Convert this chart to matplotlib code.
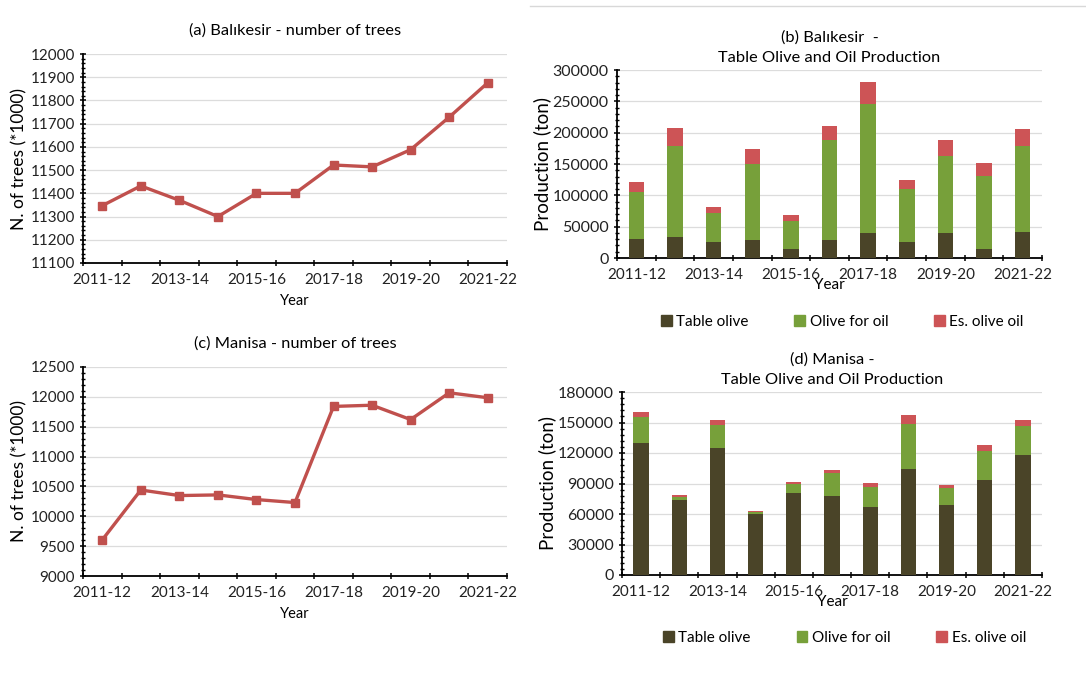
import numpy as np
import matplotlib.pyplot as plt
from matplotlib.lines import Line2D
from matplotlib.patches import Patch
from matplotlib.ticker import MultipleLocator

plt.rcParams["font.family"] = ["Lato", "DejaVu Sans"]

years = ["2011-12", "2012-13", "2013-14", "2014-15", "2015-16", "2016-17",
         "2017-18", "2018-19", "2019-20", "2020-21", "2021-22"]

# number of trees (*1000)
trees_balikesir = [11347, 11432, 11370, 11300, 11400, 11400,
                   11522, 11514, 11588, 11728, 11876]
trees_manisa = [9605, 10440, 10347, 10358, 10280, 10230,
                11840, 11860, 11620, 12068, 11985]

# production (ton)
table_balikesir = [30000, 34000, 26000, 28000, 15000, 28000,
                   40500, 26000, 40500, 15000, 41500]
oil_olive_balikesir = [75500, 145000, 46000, 121500, 44700, 161000,
                       205000, 84300, 122600, 116000, 137500]
es_oil_balikesir = [16000, 28800, 10100, 24600, 9000, 21300,
                    35700, 14400, 25000, 20800, 27200]

table_manisa = [130000, 73500, 124500, 60000, 80500, 77500,
                66500, 104500, 68500, 93000, 118000]
oil_olive_manisa = [25500, 3700, 23000, 1700, 9200, 23000,
                    20300, 44300, 16700, 28900, 29000]
es_oil_manisa = [5300, 1300, 5300, 900, 1600, 2300,
                 3300, 8900, 3600, 5900, 5900]

LINE_RED = "#C0504D"
DARK = "#4A4428"
GREEN = "#77A03A"
RED = "#CD5456"
GRID = "#DCDCDC"

W, H = 1086, 684
fig = plt.figure(figsize=(W / 100, H / 100), dpi=100)


def px_axes(x0, y0, x1, y1):
    return fig.add_axes([x0 / W, 1 - y1 / H, (x1 - x0) / W, (y1 - y0) / H])


def style_axes(ax, ylim, major, minor, tick_size):
    n = len(years)
    ax.set_xlim(-0.5, n - 0.5)
    ax.set_ylim(*ylim)
    ax.yaxis.set_major_locator(MultipleLocator(major))
    ax.yaxis.set_minor_locator(MultipleLocator(minor))
    ax.grid(axis="y", color=GRID, linewidth=0.9)
    ax.set_axisbelow(True)
    for s in ["top", "right"]:
        ax.spines[s].set_visible(False)
    for s in ["left", "bottom"]:
        ax.spines[s].set_linewidth(1.3)
    ax.set_xticks(range(0, n, 2))
    ax.set_xticklabels(years[::2])
    ax.set_xticks(np.arange(-0.5, n, 1.0), minor=True)
    ax.tick_params(axis="x", which="major", length=0, pad=7,
                   labelsize=11, labelcolor="#222222")
    ax.tick_params(axis="x", which="minor", length=4, width=1.1,
                   direction="inout")
    ax.tick_params(axis="y", which="major", length=5, width=1.1,
                   direction="inout", labelsize=tick_size,
                   labelcolor="#222222")
    ax.tick_params(axis="y", which="minor", length=3, width=1.0,
                   direction="inout")


def line_panel(ax, values, ylim, major, title):
    x = np.arange(len(years))
    ax.plot(x, values, color=LINE_RED, linewidth=2.4, marker="s",
            markersize=5.5, zorder=3)
    style_axes(ax, ylim, major, major / 5, 11)
    ax.set_title(title, fontsize=11.8, pad=14)
    ax.set_ylabel("N. of trees (*1000)", fontsize=12.5, labelpad=2)
    ax.set_xlabel("Year", fontsize=10.5, labelpad=5)


def bar_panel(ax, table, oil_olive, es_oil, ylim, major, title):
    x = np.arange(len(years))
    w = 0.4
    ax.bar(x, table, w, color=DARK, zorder=3)
    ax.bar(x, oil_olive, w, bottom=table, color=GREEN, zorder=3)
    ax.bar(x, es_oil, w, bottom=np.add(table, oil_olive), color=RED, zorder=3)
    style_axes(ax, ylim, major, major / 5, 11.5)
    ax.set_title(title, fontsize=11.8, pad=6, linespacing=1.5)
    ax.set_ylabel("Production (ton)", fontsize=13.5, labelpad=1)
    ax.set_xlabel("Year", fontsize=11, labelpad=-3)
    handles = [Patch(color=DARK, label="Table olive"),
               Patch(color=GREEN, label="Olive for oil"),
               Patch(color=RED, label="Es. olive oil")]
    ax.legend(handles=handles, loc="upper center", bbox_to_anchor=(0.53, -0.23),
              ncol=3, frameon=False, fontsize=11, handlelength=0.7,
              handleheight=0.7, handletextpad=0.3, columnspacing=3.0)


ax_a = px_axes(83, 54, 507, 263)
line_panel(ax_a, trees_balikesir, (11100, 12000), 100,
           "(a) Balıkesir - number of trees")

ax_c = px_axes(83, 367, 507, 576)
line_panel(ax_c, trees_manisa, (9000, 12500), 500,
           "(c) Manisa - number of trees")

ax_b = px_axes(617, 70, 1042, 258)
bar_panel(ax_b, table_balikesir, oil_olive_balikesir, es_oil_balikesir,
          (0, 300000), 50000, "(b) Balıkesir  -\nTable Olive and Oil Production")

ax_d = px_axes(622, 392, 1042, 575)
bar_panel(ax_d, table_manisa, oil_olive_manisa, es_oil_manisa,
          (0, 180000), 30000, "(d) Manisa -\nTable Olive and Oil Production")

# thin rule along the top edge of the right column
fig.add_artist(Line2D([530 / W, 1.0], [1 - 6 / H, 1 - 6 / H],
                      color="#D8D8D8", linewidth=1.0))

fig.savefig("out.png", dpi=100, facecolor="white")
